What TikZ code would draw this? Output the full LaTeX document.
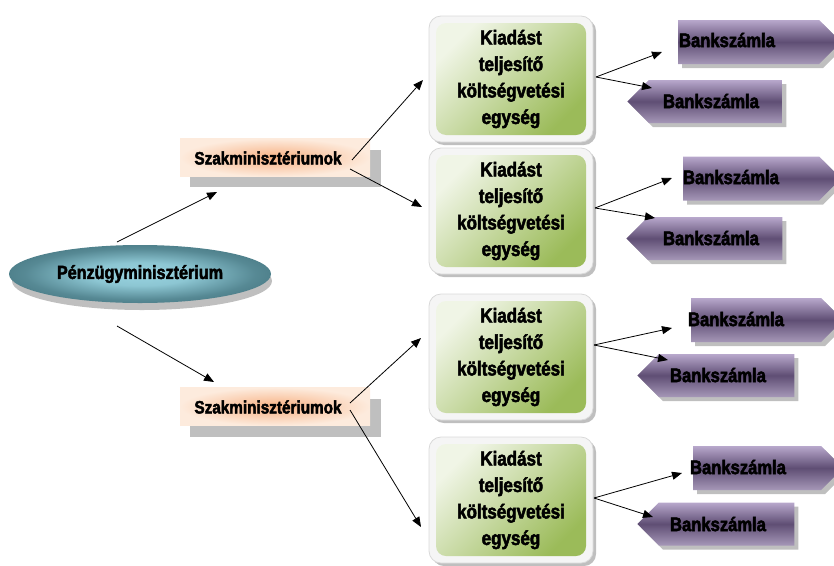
\documentclass[tikz,border=0pt]{standalone}
\usepackage{fontspec}
\usetikzlibrary{shapes.geometric,shapes.symbols,arrows.meta}
\newfontfamily\imp{Liberation Sans Bold}[FakeBold=2.5,FakeStretch=0.85]
\definecolor{tealin}{HTML}{98D3E0}
\definecolor{tealout}{HTML}{4B7C87}
\definecolor{peach}{HTML}{FDEBDD}
\definecolor{orng}{HTML}{F7B183}
\definecolor{grnlight}{HTML}{F0F5E6}
\definecolor{grndark}{HTML}{9BBB59}
\definecolor{purlight}{HTML}{B8A8CC}
\definecolor{purdark}{HTML}{5F4E74}
\definecolor{shad}{HTML}{BFBFBF}
\pgfdeclareradialshading{tealglow}{\pgfpoint{0bp}{0bp}}{color(0bp)=(tealin); color(10bp)=(tealin!85!tealout); color(22bp)=(tealout!85!tealin); color(27bp)=(tealout); color(50bp)=(tealout)}
\begin{document}
\begin{tikzpicture}[x=1pt,y=-1pt,
  pmnode/.style={ellipse, minimum width=262pt, minimum height=58pt, inner sep=0pt,
    shading=tealglow, font=\imp\fontsize{19}{21}\selectfont},
  szak/.style={rectangle, minimum width=190pt, minimum height=38pt, inner sep=0pt,
    inner color=orng, outer color=peach},
  szaktxt/.style={font=\imp\fontsize{18}{20}\selectfont, inner sep=0pt},
  gframe/.style={rectangle, rounded corners=12pt, minimum width=164pt, minimum height=126pt,
    fill=white!96!black, draw=black!15, line width=0.8pt},
  gshad/.style={rectangle, rounded corners=12pt, minimum width=164pt, minimum height=126pt,
    fill=shad},
  gin/.style={rectangle, rounded corners=10pt, minimum width=150pt, minimum height=112pt,
    top color=grnlight, bottom color=grndark, shading angle=45,
    font=\imp\fontsize{20}{26.5}\selectfont, align=center, inner sep=0pt},
  bankR/.style={signal, signal to=east, minimum width=#1, minimum height=44pt, inner sep=0pt,
    top color=purlight, bottom color=purlight!90!black, middle color=purdark},
  bankL/.style={signal, signal to=west, minimum width=#1, minimum height=43pt, inner sep=0pt,
    top color=purlight, bottom color=purlight!90!black, middle color=purdark},
  bshR/.style={signal, signal to=east, minimum width=#1, minimum height=44pt, inner sep=0pt, fill=shad},
  bshL/.style={signal, signal to=west, minimum width=#1, minimum height=43pt, inner sep=0pt, fill=shad},
  btxt/.style={font=\imp\fontsize{19.5}{21}\selectfont, inner sep=0pt},
  conn/.style={-{Triangle[length=10pt,width=8pt]}, line width=0.8pt, black}
]
\useasboundingbox (0,0) rectangle (834,565);

% Pénzügyminisztérium
\fill[shad] (142,281) ellipse [x radius=130, y radius=29];
\node[pmnode] (pm) at (140,274) {Pénzügyminisztérium};

% Szakminisztériumok boxes
\fill[shad] (190,150) rectangle (381,187);
\node[szak] (szak1) at (275,157.5) {};
\node[szaktxt] (szak1t) at (268,158) {Szakminisztériumok};
\fill[shad] (190,399) rectangle (381,437);
\node[szak] (szak2) at (275,406.5) {};
\node[szaktxt] (szak2t) at (268,407) {Szakminisztériumok};

% Green boxes
\foreach \n/\y in {1/79,2/211,3/357,4/500}{
  \node[gshad] (gs\n) at (514,\y+3) {};
  \node[gframe] (gf\n) at (511,\y) {};
  \node[gin] (g\n) at (511,\y) {Kiadást\\teljesítő\\költségvetési\\egység};
}

% Bankszámla arrows
\node[bshR=163pt] at (752.5,46) {};
\node[bankR=163pt] (b1a) at (748.5,42) {};
\node[btxt] (b1at) at (727,40) {Bankszámla};
\node[bshL=155pt] at (719.5,105.5) {};
\node[bankL=155pt] (b1b) at (715.5,101.5) {};
\node[btxt] (b1bt) at (711,101) {Bankszámla};

\node[bshR=158pt] at (755,182.5) {};
\node[bankR=158pt] (b2a) at (751,178.5) {};
\node[btxt] (b2at) at (731,177) {Bankszámla};
\node[bshL=156pt] at (719,242.5) {};
\node[bankL=156pt] (b2b) at (715,238.5) {};
\node[btxt] (b2bt) at (711,238) {Bankszámla};

\node[bshR=152pt] at (760,324) {};
\node[bankR=152pt] (b3a) at (756,320) {};
\node[btxt] (b3at) at (736,319) {Bankszámla};
\node[bshL=157pt] at (730.5,379.5) {};
\node[bankL=157pt] (b3b) at (726.5,375.5) {};
\node[btxt] (b3bt) at (718,375) {Bankszámla};

\node[bshR=150pt] at (761,472) {};
\node[bankR=150pt] (b4a) at (757,468) {};
\node[btxt] (b4at) at (738,467) {Bankszámla};
\node[bshL=157pt] at (730.5,528) {};
\node[bankL=157pt] (b4b) at (726.5,524) {};
\node[btxt] (b4bt) at (718,524) {Bankszámla};

% connector end points
\coordinate (pmU) at (117,242);
\coordinate (pmD) at (117,326);
\coordinate (s1in) at (217,192);
\coordinate (s2in) at (214,382);
\coordinate (s1U) at (352,160);
\coordinate (s1D) at (350,169);
\coordinate (s2U) at (350,403);
\coordinate (s2D) at (350,410);
\coordinate (g1in) at (423,80);
\coordinate (g2in) at (422,207);
\coordinate (g3in) at (421,338);
\coordinate (g4in) at (421,527);
\coordinate (g1o) at (596,77);
\coordinate (g2o) at (595,208);
\coordinate (g3o) at (594,345);
\coordinate (g4o) at (594,498);
\coordinate (b1ain) at (662,52);
\coordinate (b1bin) at (652,88);
\coordinate (b2ain) at (672,178);
\coordinate (b2bin) at (655,218);
\coordinate (b3ain) at (672,328);
\coordinate (b3bin) at (668,360);
\coordinate (b4ain) at (682,473);
\coordinate (b4bin) at (653,517);

\draw[conn] (pmU) -- (s1in);
\draw[conn] (pmD) -- (s2in);
\draw[conn] (s1U) -- (g1in);
\draw[conn] (s1D) -- (g2in);
\draw[conn] (s2U) -- (g3in);
\draw[conn] (s2D) -- (g4in);
\draw[conn] (g1o) -- (b1ain);
\draw[conn] (g1o) -- (b1bin);
\draw[conn] (g2o) -- (b2ain);
\draw[conn] (g2o) -- (b2bin);
\draw[conn] (g3o) -- (b3ain);
\draw[conn] (g3o) -- (b3bin);
\draw[conn] (g4o) -- (b4ain);
\draw[conn] (g4o) -- (b4bin);
\end{tikzpicture}
\end{document}
